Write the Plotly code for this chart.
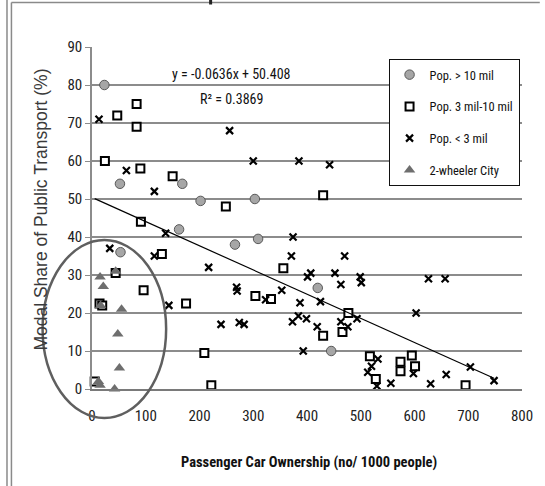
import numpy as np
import plotly.graph_objects as go

# Car ownership (vehicles per 1000 people) and public transport modal share (%)
# grouped by city population.
big_x = [23, 52, 168, 202, 303, 162, 266, 53, 309, 420, 445]
big_y = [80, 54, 54, 49.5, 50, 42, 38, 36, 39.5, 26.6, 10]

mid_x = [47, 83, 83, 24, 90, 150, 249, 430, 91, 130, 44, 96, 14, 19, 175, 209, 5, 222,
         356, 304, 333, 477, 430, 466, 517, 528, 574, 574, 595, 601, 695]
mid_y = [72, 75, 69, 60, 58, 56, 48, 51, 44, 35.5, 30.5, 26, 22.5, 22, 22.5, 9.5, 2, 1,
         31.8, 24.5, 23.7, 20, 14, 15, 8.6, 2.6, 7.2, 4.7, 8.8, 6, 1]

small_x = [13, 256, 64, 116, 300, 385, 442, 137, 33, 116, 217, 269, 270, 143, 240, 274, 283,
           374, 371, 470, 401, 407, 452, 463, 499, 501, 626, 657, 323, 353, 387, 425, 493,
           373, 384, 399, 419, 463, 476, 603, 393, 532, 520, 513, 530, 556, 598, 630, 659,
           704, 748]
small_y = [71, 68, 57.5, 52, 60, 60, 59, 41, 37, 35, 32, 26.8, 25.8, 22, 17, 17.5, 17,
           40, 35, 35, 29.5, 30.5, 30.5, 27.5, 29.5, 28, 29, 29, 23.5, 26, 22.7, 23, 18.5,
           17.7, 19.2, 18.5, 16.4, 17.7, 16.4, 20, 10, 7.9, 6, 4.4, 0.8, 1.5, 4.1, 1.4, 3.8,
           5.8, 2.2]

two_wheeler_x = [15, 21, 44, 16, 55, 48, 51, 12, 15, 42]
two_wheeler_y = [29.5, 27, 31, 22, 21, 14.5, 5.5, 2, 1, 0]

series_names = ["Pop. > 10 mil", "Pop. 3 mil-10 mil", "Pop. < 3 mil", "2-wheeler City"]

# Linear fit over all cities
slope = -0.0636
intercept = 50.408
r_squared = 0.3869

x_ticks = [0, 100, 200, 300, 400, 500, 600, 700, 800]
y_ticks = [0, 10, 20, 30, 40, 50, 60, 70, 80, 90]

NARROW = "Liberation Sans Narrow, Arial Narrow, Roboto Condensed, Roboto, sans-serif"
SANS = "Liberation Sans, Arial, sans-serif"

fig = go.Figure()

fig.add_trace(go.Scatter(
    x=big_x, y=big_y, mode="markers", name=series_names[0], legendgroup="a",
    marker=dict(symbol="circle", size=9.5, color="#a6a6a6",
                line=dict(color="#595959", width=1)),
    cliponaxis=False))
fig.add_trace(go.Scatter(
    x=mid_x, y=mid_y, mode="markers", name=series_names[1], legendgroup="b",
    marker=dict(symbol="square", size=8, color="white",
                line=dict(color="black", width=2)),
    cliponaxis=False))
fig.add_trace(go.Scatter(
    x=small_x, y=small_y, mode="markers", name=series_names[2], legendgroup="c",
    marker=dict(symbol="x-thin", size=7, color="black",
                line=dict(color="black", width=2.2)),
    cliponaxis=False))
fig.add_trace(go.Scatter(
    x=two_wheeler_x, y=two_wheeler_y, mode="markers", name=series_names[3], legendgroup="d",
    marker=dict(symbol="triangle-up", size=10, color="#6e6e6e", line=dict(width=0)),
    cliponaxis=False))

all_x = np.array(big_x + mid_x + small_x + two_wheeler_x, dtype=float)
fit_x = np.array([all_x.min(), all_x.max()])
fit_y = slope * fit_x + intercept
fig.add_trace(go.Scatter(
    x=fit_x, y=fit_y, mode="lines", line=dict(color="black", width=1.2),
    showlegend=False, hoverinfo="skip"))

# plot area in pixels: x 92..527, y 47..389
def px_x(p):
    return (p - 92) / 435.0

def px_y(p):
    return (389 - p) / 342.0

shapes = [
    # outline around the 2-wheeler cities
    dict(type="circle", xref="paper", yref="paper",
         x0=px_x(42), x1=px_x(167), y0=px_y(418), y1=px_y(240),
         line=dict(color="#5f5f5f", width=2.5), layer="above"),
    # outer frame
    dict(type="line", xref="paper", yref="paper", x0=px_x(6), x1=px_x(6),
         y0=px_y(0), y1=px_y(486), line=dict(color="#8a8a8a", width=1.5)),
    dict(type="line", xref="paper", yref="paper", x0=px_x(10.5), x1=px_x(10.5),
         y0=px_y(2.5), y1=px_y(486), line=dict(color="#8a8a8a", width=1.5)),
    dict(type="line", xref="paper", yref="paper", x0=px_x(10.5), x1=px_x(545),
         y0=px_y(2.5), y1=px_y(2.5), line=dict(color="#8a8a8a", width=1.5)),
    dict(type="line", xref="paper", yref="paper", x0=px_x(212), x1=px_x(212),
         y0=px_y(0), y1=px_y(4.5), line=dict(color="#222222", width=3)),
]

annotations = [
    dict(x=259, y=82.8, xref="x", yref="y", showarrow=False,
         xanchor="center", yanchor="middle",
         text=f"y = {slope}x + {intercept}",
         font=dict(family=NARROW, size=14, color="#111111")),
    dict(x=259, y=76.2, xref="x", yref="y", showarrow=False,
         xanchor="center", yanchor="middle",
         text=f"R² = {r_squared}",
         font=dict(family=NARROW, size=14, color="#111111")),
    dict(x=px_x(40), y=px_y(210), xref="paper", yref="paper", showarrow=False,
         xanchor="center", yanchor="middle",
         textangle=-90, text="Modal Share of Public Transport (%)",
         font=dict(family=SANS, size=17.5, color="#3a3a3a")),
    dict(x=px_x(312), y=px_y(462), xref="paper", yref="paper", showarrow=False,
         xanchor="center", yanchor="middle",
         text="<b>Passenger Car Ownership (no/ 1000 people)</b>",
         font=dict(family=NARROW, size=14.5, color="#111111")),
]

fig.update_layout(
    width=545, height=486,
    margin=dict(l=92, r=18, t=47, b=97),
    paper_bgcolor="white", plot_bgcolor="white",
    showlegend=True,
    legend=dict(x=px_x(392), y=px_y(59), xanchor="left", yanchor="top",
                bgcolor="white", bordercolor="#111111", borderwidth=1,
                font=dict(family=NARROW, size=12.5, color="#111111"),
                tracegroupgap=12.5, itemwidth=30),
    shapes=shapes,
    annotations=annotations,
)

fig.update_xaxes(
    range=[0, 800], tickvals=x_ticks, showgrid=False, zeroline=False,
    showline=True, linecolor="#7a7a7a", linewidth=2,
    ticks="outside", ticklen=12, tickcolor="rgba(0,0,0,0)",
    tickfont=dict(family=NARROW, size=15, color="#222222"))
fig.update_yaxes(
    range=[0, 90], tickvals=y_ticks, showgrid=True, gridcolor="#8c8c8c", gridwidth=1.5,
    zeroline=False, showline=True, linecolor="#8c8c8c", linewidth=1.5,
    ticks="outside", ticklen=5, tickcolor="#8c8c8c",
    tickfont=dict(family=NARROW, size=15, color="#222222"))

fig.write_html("out.html")
